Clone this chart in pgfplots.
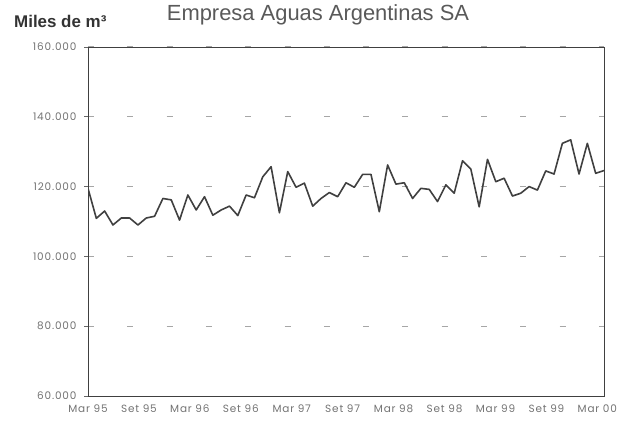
\documentclass[border=0pt]{standalone}
\usepackage{fontspec}
\setmainfont{Liberation Sans}
\newfontfamily\tickfont[LetterSpace=8]{Poppins}
\usepackage{pgfplots}
\usepackage{pgfplotstable}
\pgfplotsset{compat=1.18}
\pgfplotstableread{
i v
0 119.5
1 110.9
2 113.0
3 109.0
4 111.0
5 111.0
6 109.0
7 111.0
8 111.5
9 116.6
10 116.2
11 110.4
12 117.6
13 113.3
14 117.1
15 111.8
16 113.3
17 114.4
18 111.7
19 117.6
20 116.8
21 122.8
22 125.7
23 112.5
24 124.3
25 119.8
26 121.0
27 114.4
28 116.6
29 118.3
30 117.1
31 121.1
32 119.8
33 123.5
34 123.5
35 112.8
36 126.2
37 120.7
38 121.1
39 116.6
40 119.5
41 119.2
42 115.7
43 120.5
44 118.1
45 127.4
46 125.0
47 114.2
48 127.8
49 121.4
50 122.4
51 117.3
52 118.1
53 120.0
54 119.0
55 124.5
56 123.6
57 132.4
58 133.4
59 123.6
60 132.4
61 123.8
62 124.6
}\agua
\begin{document}
\begin{tikzpicture}
\useasboundingbox (0,0) rectangle (628bp,425bp);
\begin{axis}[
  at={(88bp,29bp)}, anchor=south west,
  scale only axis, width=516bp, height=349bp,
  xmin=0, xmax=62, ymin=60, ymax=160,
  ytick={60,80,100,120,140,160},
  yticklabels={60.000,80.000,100.000,120.000,140.000,160.000},
  xtick={0,6.12,12.24,18.36,24.48,30.6,36.72,42.84,48.96,55.08,61.2},
  xticklabels={Mar 95,Set 95,Mar 96,Set 96,Mar 97,Set 97,Mar 98,Set 98,Mar 99,Set 99,Mar 00},
  minor xtick={0,1,...,62},
  xtick pos=bottom, ytick pos=left,
  x tick style={draw=none},
  minor x tick style={black!70, line width=0.5bp},
  minor tick length=4bp,
  xtick align=center,
  ytick align=outside,
  major tick length=4bp,
  y tick style={black!60, line width=0.6bp},
  ymajorgrids,
  major grid style={black!35, line width=1bp, dash pattern=on 6bp off 33.3bp},
  axis line style={black!75, line width=0.8bp},
  ticklabel style={font=\tickfont\fontsize{10.5}{11}\selectfont, text=black!55},
  xticklabel style={yshift=-3bp},
  yticklabel style={xshift=-4bp},
]
\addplot[color=black!75, line width=1.6bp, line join=round] table[x=i, y=v] {\agua};
\end{axis}
\node[anchor=base west, inner sep=0pt, font=\bfseries\fontsize{17}{17}\selectfont, text=black!80] at (14bp,397bp) {Miles de m³};
\node[anchor=base, inner sep=0pt, font=\fontsize{22}{22}\selectfont, text=black!65] at (318bp,404bp) {Empresa Aguas Argentinas SA};
\end{tikzpicture}
\end{document}
